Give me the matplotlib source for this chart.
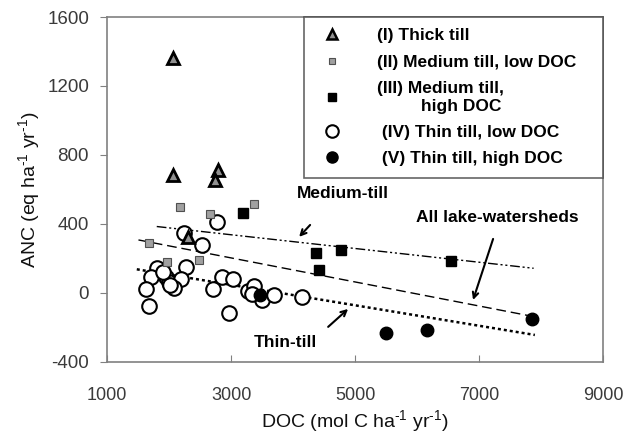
import matplotlib
matplotlib.use("Agg")
import matplotlib.pyplot as plt
from matplotlib.lines import Line2D
import numpy as np

plt.rcParams["font.family"] = ["Liberation Sans", "DejaVu Sans"]
plt.rcParams["mathtext.fontset"] = "custom"
plt.rcParams["mathtext.rm"] = "Liberation Sans"
plt.rcParams["mathtext.it"] = "Liberation Sans"
plt.rcParams["axes.unicode_minus"] = False

# (I) Thick till
thick_doc = [2065, 2065, 2790, 2740, 2306]
thick_anc = [1363, 684, 713, 655, 325]

# (II) Medium till, low DOC
med_low_doc = [2177, 2661, 3371, 1677, 1968, 2484]
med_low_anc = [499, 458, 516, 290, 180, 191]

# (III) Medium till, high DOC
med_high_doc = [3194, 4371, 4774, 4419, 6542]
med_high_anc = [464, 232, 249, 133, 187]

# (IV) Thin till, low DOC
thin_low_doc = [2769, 2242, 2527, 2274, 1812, 1704, 1952, 2005, 2188, 2081,
                2016, 1629, 1683, 2715, 2849, 3037, 2968, 3279, 3371, 3495,
                3699, 4140, 1900, 3330]
thin_low_anc = [414, 346, 278, 149, 143, 91, 95, 66, 79, 27,
                46, 21, -75, 21, 91, 81, -118, 12, 41, -41,
                -12, -25, 120, -5]

# (V) Thin till, high DOC
thin_high_doc = [3468, 5500, 6165, 7860]
thin_high_anc = [-12, -234, -218, -153]

# regression lines: (x start, x end, intercept, slope)
fit_medium = (1800, 7880, 456.7, -0.03983)
fit_all = (1505, 7880, 412.0, -0.0697)
fit_thin = (1478, 7900, 224.6, -0.0593)

fig = plt.figure(figsize=(6.23, 4.36), dpi=100)
ax = fig.add_axes([0.172, 0.170, 0.796, 0.791])

grey = "#808080"


def draw_fit(fit, **kw):
    x0, x1, b, m = fit
    xs = np.array([x0, x1])
    ax.plot(xs, b + m * xs, color="black", **kw)


draw_fit(fit_medium, lw=1.0, dashes=(7, 2, 1.5, 2, 1.5, 2))
draw_fit(fit_all, lw=1.0, dashes=(7, 3.5))
draw_fit(fit_thin, lw=1.8, dashes=(1.2, 1.2))

ax.plot(thin_low_doc, thin_low_anc, "o", ms=10.5, mfc="white", mec="black", mew=1.5,
        ls="none")
ax.plot(thin_high_doc, thin_high_anc, "o", ms=9, mfc="black", mec="black", ls="none")
ax.plot(med_low_doc, med_low_anc, "s", ms=6, mfc="#a0a0a0", mec="#505050", mew=0.8,
        ls="none")
ax.plot(med_high_doc, med_high_anc, "s", ms=6.5, mfc="black", mec="black", ls="none")
ax.plot(thick_doc, thick_anc, "^", ms=8, mfc="#909090", mec="black", mew=2,
        ls="none")

ax.set_xlim(1000, 9000)
ax.set_ylim(-400, 1600)
ax.set_xticks([1000, 3000, 5000, 7000, 9000])
ax.set_yticks([-400, 0, 400, 800, 1200, 1600])
for s in ax.spines.values():
    s.set_color(grey)
    s.set_linewidth(1.2)
ax.tick_params(axis="x", direction="in", length=5, color=grey, labelsize=13,
               labelcolor="#3a3a3a", pad=18)
ax.tick_params(axis="y", direction="out", length=5, color=grey, labelsize=13.5,
               labelcolor="#3a3a3a", pad=8)

ax.set_xlabel(r"DOC (mol C ha$^{\text{-1}}$ yr$^{\text{-1}}$)", fontsize=14,
              labelpad=3, color="#111111")
ax.set_ylabel(r"ANC (eq ha$^{\text{-1}}$ yr$^{\text{-1}}$)", fontsize=14,
              labelpad=4, color="#111111")

ann = dict(fontsize=12.5, fontweight="bold", ha="center", va="center")
arrow = dict(arrowstyle="->", color="black", lw=1.5, shrinkA=0, shrinkB=0)
ax.text(4806, 574, "Medium-till", **ann)
ax.annotate("", xy=(4097, 325), xytext=(4274, 394), arrowprops=arrow)
ax.text(3871, -290, "Thin-till", **ann)
ax.annotate("", xy=(4887, -93), xytext=(4565, -197), arrowprops=arrow)
ax.text(7290, 435, "All lake-watersheds", **ann)
ax.annotate("", xy=(6903, -41), xytext=(7226, 313), arrowprops=arrow)

handles = [
    Line2D([], [], marker="^", ls="none", ms=7, mfc="#909090", mec="black", mew=1.8),
    Line2D([], [], marker="s", ls="none", ms=5, mfc="#a0a0a0", mec="#505050", mew=0.8),
    Line2D([], [], marker="s", ls="none", ms=5.5, mfc="black", mec="black"),
    Line2D([], [], marker="o", ls="none", ms=9, mfc="white", mec="black", mew=1.5),
    Line2D([], [], marker="o", ls="none", ms=8, mfc="black", mec="black"),
]
labels = [
    "(I) Thick till",
    "(II) Medium till, low DOC",
    "(III) Medium till,\n         high DOC",
    " (IV) Thin till, low DOC",
    " (V) Thin till, high DOC",
]
leg = ax.legend(handles, labels, loc="upper right",
                bbox_to_anchor=(0.397, 0.0, 0.603, 1.0), mode="expand",
                borderaxespad=0, frameon=True, fancybox=False,
                handlelength=1.95, handletextpad=1.6, labelspacing=0.65,
                borderpad=0.65, prop={"weight": "bold", "size": 12.5})
leg.get_frame().set_edgecolor("#404040")
leg.get_frame().set_linewidth(1.2)

fig.savefig("out.png", dpi=100)
